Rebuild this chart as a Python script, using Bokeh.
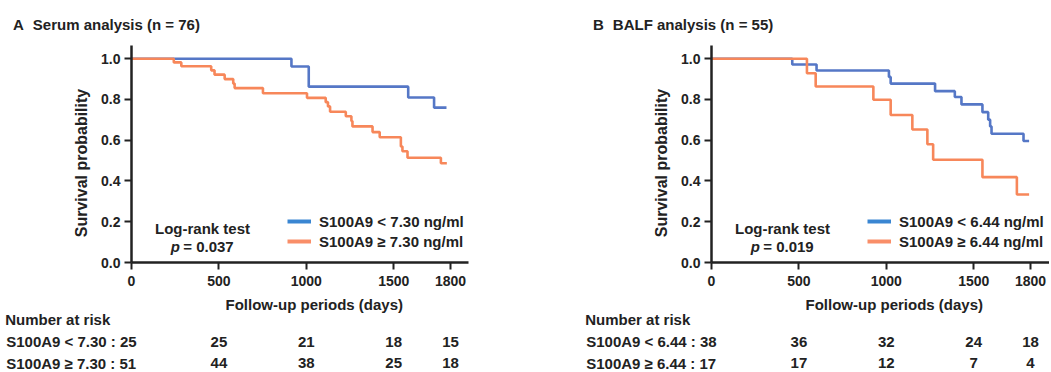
import math
from bokeh.plotting import figure
from bokeh.models import (Range1d, FixedTicker, PrintfTickFormatter, Label,
                          Legend, LegendItem)
from bokeh.layouts import row
from bokeh.embed import file_html
from bokeh.resources import INLINE

# ---------------- data ----------------
# Panel A: Serum analysis (n = 76)
A_TITLE_LETTER = "A"
A_TITLE = "Serum analysis (n = 76)"
A_LOW_T = [0, 915, 1014, 1583, 1731, 1802]
A_LOW_S = [1.0, 0.962, 0.863, 0.810, 0.760, 0.760]
A_HIGH_T = [0, 242, 285, 456, 475, 533, 582, 590, 752, 1004, 1111, 1124, 1136,
            1226, 1258, 1264, 1379, 1420, 1541, 1550, 1579, 1770, 1804]
A_HIGH_S = [1.0, 0.982, 0.963, 0.943, 0.922, 0.900, 0.878, 0.856, 0.831, 0.808,
            0.787, 0.766, 0.740, 0.718, 0.694, 0.668, 0.640, 0.615, 0.569,
            0.546, 0.514, 0.487, 0.487]
A_LEGEND = ["S100A9 < 7.30 ng/ml", "S100A9 \u2265 7.30 ng/ml"]
A_P = "= 0.037"
A_RISK_LABELS = ["S100A9 < 7.30 : 25", "S100A9 \u2265 7.30 : 51"]
A_RISK_LOW = [25, 21, 18, 15]
A_RISK_HIGH = [44, 38, 25, 18]

# Panel B: BALF analysis (n = 55)
B_TITLE_LETTER = "B"
B_TITLE = "BALF analysis (n = 55)"
B_LOW_T = [0, 462, 601, 1015, 1025, 1279, 1392, 1430, 1550, 1583, 1594, 1602,
           1785, 1817]
B_LOW_S = [1.0, 0.972, 0.942, 0.911, 0.878, 0.841, 0.812, 0.776, 0.738, 0.701,
           0.668, 0.632, 0.596, 0.596]
B_HIGH_T = [0, 546, 596, 926, 1025, 1149, 1235, 1268, 1550, 1747, 1817]
B_HIGH_S = [1.0, 0.929, 0.864, 0.799, 0.724, 0.653, 0.580, 0.504, 0.419, 0.334,
            0.334]
B_LEGEND = ["S100A9 < 6.44 ng/ml", "S100A9 \u2265 6.44 ng/ml"]
B_P = "= 0.019"
B_RISK_LABELS = ["S100A9 < 6.44 : 38", "S100A9 \u2265 6.44 : 17"]
B_RISK_LOW = [36, 32, 24, 18]
B_RISK_HIGH = [17, 12, 7, 4]

X_TICKS = [0, 500, 1000, 1500, 1825]
X_TICK_LABELS = ["0", "500", "1000", "1500", "1800"]
RISK_DAYS = [500, 1000, 1500, 1825]
Y_TICKS = [0.0, 0.2, 0.4, 0.6, 0.8, 1.0]

# ---------------- style / layout ----------------
BLUE = "#5577c6"
ORANGE = "#f7875a"
LEG_BLUE = "#3a86d2"
LEG_ORANGE = "#f98e68"
TXT = "#222222"
FONT = "Liberation Sans"

HEIGHT = 371
PX_PER_DAY = 0.1748
Y_TOP = 1.065
PX_PER_UNIT = 217 / Y_TOP
X0_PX = 131          # px of day 0 inside each canvas
Y0_PX = 262          # px of survival 0 from canvas top
BASE_FIX = 5.5       # label baseline correction (px)


def dx(px):
    return (px - X0_PX) / PX_PER_DAY


def dy(py):
    return (Y0_PX - py) / PX_PER_UNIT


def lab(p, x, py, text, size="15px", align="left", style="bold"):
    p.add_layout(Label(x=x, y=dy(py - BASE_FIX), text=text, text_font=FONT,
                       text_font_size=size, text_font_style=style,
                       text_color=TXT, text_align=align,
                       text_baseline="alphabetic"))


def panel(width, axis_end_px, letter, title, low_t, low_s, high_t, high_s,
          legend_labels, ptext, risk_labels, risk_low, risk_high):
    p = figure(width=width, height=HEIGHT, output_backend="svg",
               toolbar_location=None,
               x_range=Range1d(dx(0), dx(width)),
               y_range=Range1d(dy(HEIGHT), dy(0)),
               min_border=0, min_border_left=0, min_border_right=0,
               min_border_top=0, min_border_bottom=0)
    p.outline_line_color = None
    p.grid.visible = False
    p.background_fill_color = None
    p.border_fill_color = "white"

    for ax in (p.xaxis[0], p.yaxis[0]):
        ax.fixed_location = 0
        ax.axis_line_width = 2.5
        ax.axis_line_color = TXT
        ax.major_tick_line_width = 2
        ax.major_tick_line_color = TXT
        ax.major_tick_out = 7
        ax.major_tick_in = 0
        ax.minor_tick_line_color = None
        ax.major_label_text_font = FONT
        ax.major_label_text_font_size = "14px"
        ax.major_label_text_font_style = "bold"
        ax.major_label_text_color = TXT
    p.xaxis[0].bounds = (0, dx(axis_end_px))
    p.xaxis[0].ticker = FixedTicker(ticks=X_TICKS)
    p.xaxis[0].major_label_overrides = {t: s for t, s in zip(X_TICKS, X_TICK_LABELS)}
    p.xaxis[0].major_label_standoff = 6
    p.yaxis[0].bounds = (0, Y_TOP)
    p.yaxis[0].ticker = FixedTicker(ticks=Y_TICKS)
    p.yaxis[0].formatter = PrintfTickFormatter(format="%.1f")
    p.yaxis[0].major_label_standoff = 4

    p.step(low_t, low_s, mode="after", line_color=BLUE, line_width=2.6)
    p.step(high_t, high_s, mode="after", line_color=ORANGE, line_width=2.6)

    # legend proxies (no visible data)
    nan = float("nan")
    r1 = p.line([nan, nan], [nan, nan], line_color=LEG_BLUE, line_width=4)
    r2 = p.line([nan, nan], [nan, nan], line_color=LEG_ORANGE, line_width=4)
    leg = Legend(items=[LegendItem(label=legend_labels[0], renderers=[r1]),
                        LegendItem(label=legend_labels[1], renderers=[r2])],
                 location=(287, HEIGHT - 250), orientation="vertical",
                 glyph_width=24, glyph_height=18, label_height=18,
                 label_standoff=8, spacing=2, padding=0, margin=0,
                 border_line_color=None, background_fill_alpha=0,
                 label_text_font=FONT, label_text_font_size="15px",
                 label_text_font_style="bold", label_text_color=TXT)
    p.add_layout(leg, "center")

    # titles
    lab(p, dx(12.5), 29.3, letter)
    lab(p, dx(32.3), 29.3, title)

    # axis labels
    lab(p, dx(313.8), 309, "Follow-up periods (days)", align="center")
    p.add_layout(Label(x=dx(86 - BASE_FIX), y=dy(162.5),
                       text="Survival probability", text_font=FONT,
                       text_font_size="16px", text_font_style="bold",
                       text_color=TXT, text_align="center",
                       text_baseline="alphabetic", angle=math.pi / 2))

    # log-rank
    lab(p, dx(202), 233.3, "Log-rank test", align="center")
    lab(p, dx(179.5), 251.7, "p", align="right", style="bold italic")
    lab(p, dx(182.7), 251.7, ptext)

    # risk table
    lab(p, dx(4.7), 324, "Number at risk")
    lab(p, dx(5.7), 346.5, risk_labels[0])
    lab(p, dx(5.7), 368, risk_labels[1])
    for d, a, b in zip(RISK_DAYS, risk_low, risk_high):
        lab(p, d, 346.5, str(a), align="center")
        lab(p, d, 368, str(b), align="center")
    return p


pA = panel(580, 468, A_TITLE_LETTER, A_TITLE, A_LOW_T, A_LOW_S,
           A_HIGH_T, A_HIGH_S, A_LEGEND, A_P, A_RISK_LABELS, A_RISK_LOW,
           A_RISK_HIGH)
pB = panel(469, 469, B_TITLE_LETTER, B_TITLE, B_LOW_T, B_LOW_S,
           B_HIGH_T, B_HIGH_S, B_LEGEND, B_P, B_RISK_LABELS, B_RISK_LOW,
           B_RISK_HIGH)

layout = row(pA, pB, spacing=0)
open("out.html", "w").write(file_html(layout, INLINE))
